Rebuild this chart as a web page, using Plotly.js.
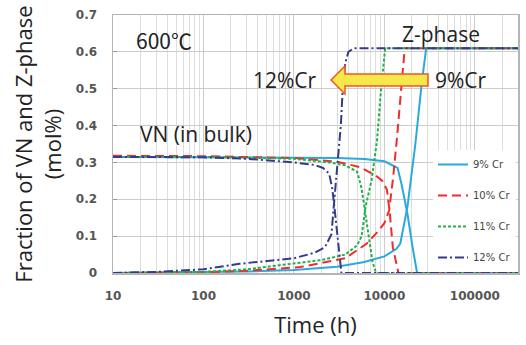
<!DOCTYPE html>
<html>
<head>
<meta charset="utf-8">
<script src="https://cdn.plot.ly/plotly-3.0.1.min.js"></script>
<style>html,body{margin:0;padding:0;background:#fff;}#chart{width:526px;height:345px;}</style>
</head>
<body>
<div id="chart"></div>
<script>
// ---- data (time in hours, fraction in mol%) ----
const seriesNames = ["9% Cr", "10% Cr", "11% Cr", "12% Cr"];

const vnTime9  = [10, 100, 1000, 3000, 6000, 10000, 14000, 15500, 18000, 20500, 23000, 300000];
const vnFrac9  = [0.315, 0.315, 0.313, 0.312, 0.309, 0.303, 0.285, 0.24, 0.16, 0.07, 0, 0];
const zTime9   = [10, 100, 300, 1000, 3000, 6000, 10000, 13500, 15000, 18000, 22000, 26000, 29000, 300000];
const zFrac9   = [0, 0.002, 0.004, 0.008, 0.017, 0.03, 0.045, 0.065, 0.08, 0.18, 0.35, 0.52, 0.61, 0.61];

const vnTime10 = [10, 100, 1000, 3000, 5400, 8000, 9500, 10700, 11500, 12400, 14300, 300000];
const vnFrac10 = [0.318, 0.317, 0.312, 0.302, 0.287, 0.265, 0.25, 0.225, 0.16, 0.07, 0, 0];
const zTime10  = [10, 100, 300, 1170, 3700, 6400, 8300, 10000, 11300, 12500, 13700, 15200, 16800, 300000];
const zFrac10  = [0, 0.002, 0.006, 0.016, 0.04, 0.08, 0.11, 0.135, 0.17, 0.26, 0.36, 0.48, 0.61, 0.61];

const vnTime11 = [10, 100, 1000, 2500, 3700, 5000, 5600, 6000, 6700, 7400, 8100, 300000];
const vnFrac11 = [0.315, 0.315, 0.31, 0.3, 0.292, 0.275, 0.23, 0.18, 0.1, 0.03, 0, 0];
const zTime11  = [10, 100, 300, 1000, 2000, 3700, 5000, 5600, 6200, 7200, 8300, 9200, 10200, 300000];
const zFrac11  = [0, 0.003, 0.01, 0.025, 0.035, 0.05, 0.075, 0.1, 0.18, 0.25, 0.36, 0.5, 0.61, 0.61];

const vnTime12 = [10, 100, 300, 1000, 1700, 2100, 2450, 2650, 2800, 2950, 3050, 3350, 300000];
const vnFrac12 = [0.315, 0.314, 0.31, 0.3, 0.293, 0.285, 0.27, 0.23, 0.18, 0.13, 0.08, 0, 0];
const zTime12  = [10, 30, 100, 250, 1000, 1700, 2200, 2600, 2800, 3050, 3300, 3500, 3700, 4000, 4600, 300000];
const zFrac12  = [0, 0.003, 0.01, 0.025, 0.04, 0.055, 0.07, 0.105, 0.2, 0.3, 0.4, 0.52, 0.57, 0.6, 0.61, 0.61];

const xTickVals = [10, 100, 1000, 10000, 100000];
const xTickText = ["10", "100", "1000", "10000", "100000"];

// ---- styles ----
const styles = [
  {color: "#2aa9e0", dash: "solid"},
  {color: "#ee2c2c", dash: "9px,5px"},
  {color: "#22b04a", dash: "3px,2px"},
  {color: "#343a8c", dash: "9px,3px,2px,3px"}
];

const vnT = [vnTime9, vnTime10, vnTime11, vnTime12];
const vnY = [vnFrac9, vnFrac10, vnFrac11, vnFrac12];
const zT  = [zTime9, zTime10, zTime11, zTime12];
const zY  = [zFrac9, zFrac10, zFrac11, zFrac12];

const traces = [];
seriesNames.forEach((nm, i) => {
  const line = {color: styles[i].color, dash: styles[i].dash, width: 2};
  traces.push({x: vnT[i], y: vnY[i], mode: "lines", name: nm, legendgroup: "g" + i,
               showlegend: true, line: line, hoverinfo: "skip"});
  traces.push({x: zT[i], y: zY[i], mode: "lines", name: nm + " Z", legendgroup: "g" + i,
               showlegend: false, line: line, hoverinfo: "skip"});
});

// pixel -> paper helpers for decorations (plot area 113..518 x 15..273)
const L = 113, R = 518, T = 15, B = 273;
const px = v => (v - L) / (R - L);
const py = v => (B - v) / (B - T);

const arrowPts = [[428,74],[345,74],[345,66],[331,80],[345,94],[345,86],[428,86]];
const arrowPath = "M " + arrowPts.map(p => px(p[0]).toFixed(4) + "," + py(p[1]).toFixed(4)).join(" L ") + " Z";

const annFont = {family: "Open Sans, Noto Sans, sans-serif", size: 21, color: "#222"};
const ann = (text, x, y, font) => ({text: text, x: px(x), y: py(y), xref: "paper", yref: "paper",
  showarrow: false, xanchor: "center", yanchor: "middle", font: font || annFont});

const layout = {
  width: 526, height: 345,
  margin: {l: 113, r: 8, t: 15, b: 72},
  paper_bgcolor: "#fff", plot_bgcolor: "#fff",
  showlegend: true,
  legend: {x: px(433), y: py(150), xanchor: "left", yanchor: "top",
           bgcolor: "rgba(255,255,255,0.95)", borderwidth: 0,
           traceorder: "grouped", tracegroupgap: 12,
           font: {family: "DejaVu Sans, sans-serif", size: 10, color: "#444"}},
  xaxis: {
    type: "log", range: [1, Math.log10(300000)],
    tickmode: "array", tickvals: xTickVals, ticktext: xTickText,
    tickfont: {family: "DejaVu Sans, sans-serif", size: 12, color: "#555", weight: "bold"},
    ticks: "", ticklabelstandoff: 11,
    showgrid: true, gridcolor: "#cccccc", gridwidth: 1,
    minor: {tickvals: [], showgrid: true, gridcolor: "#dddddd"},
    showline: true, mirror: true, linecolor: "#b5b5b5", linewidth: 1.5,
    zeroline: false,
    title: {text: "Time (h)", standoff: 15,
            font: {family: "Open Sans, Noto Sans, sans-serif", size: 22, color: "#222"}}
  },
  yaxis: {
    range: [0, 0.7], dtick: 0.1, tick0: 0,
    tickfont: {family: "DejaVu Sans, sans-serif", size: 12, color: "#555", weight: "bold"},
    ticks: "inside", ticklen: 4, tickcolor: "#999", ticklabelstandoff: 12,
    showgrid: true, gridcolor: "#cccccc", gridwidth: 1,
    showline: true, mirror: true, linecolor: "#b5b5b5", linewidth: 1.5,
    zeroline: false,
    title: {text: "Fraction of VN and Z-phase<br>(mol%)", standoff: 8,
            font: {family: "Open Sans, Noto Sans, sans-serif", size: 22, color: "#222"}}
  },
  shapes: [{type: "path", xref: "paper", yref: "paper", path: arrowPath,
            fillcolor: "#f6e84a", line: {color: "#f0562a", width: 1.5}, layer: "above"}],
  annotations: [
    ann("600℃", 164, 40, {family: "Noto Sans CJK JP, sans-serif", size: 21, color: "#222"}),
    ann("Z-phase", 441, 34),
    ann("12%Cr", 285, 80),
    ann("9%Cr", 461, 80),
    ann("VN (in bulk)", 196, 134)
  ]
};

// minor grid values on the log axis: 2..9 within each decade
const minorVals = [];
for (let d = 10; d <= 100000; d *= 10) for (let k = 2; k <= 9; k++) if (d * k <= 300000) minorVals.push(d * k);
layout.xaxis.minor.tickvals = minorVals;

Plotly.newPlot("chart", traces, layout, {displayModeBar: false, staticPlot: true});
</script>
</body>
</html>
